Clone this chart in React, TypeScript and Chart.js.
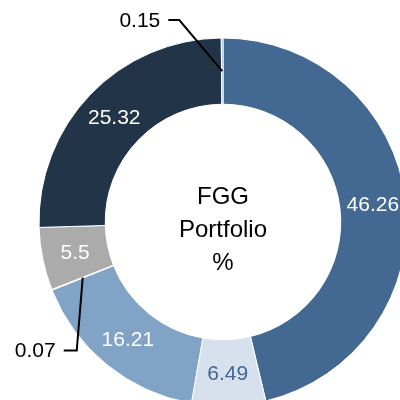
import React, { useEffect, useRef } from "react";
import { Chart, registerables } from "chart.js";

Chart.register(...registerables);

const categories = ["A", "B", "C", "D", "E", "F", "G"];
const values = [46.26, 6.49, 16.21, 0.07, 5.5, 25.32, 0.15];
const valueLabels = ["46.26", "6.49", "16.21", "0.07", "5.5", "25.32", "0.15"];
const centerLines = ["FGG", "Portfolio", "%"];

const sliceColors = ["#436891", "#d6e1ed", "#80a3c6", "#d6e1ed", "#ababab", "#223548", "#80a3c6"];
const labelColors = ["#ffffff", "#436891", "#ffffff", "#000000", "#ffffff", "#ffffff", "#000000"];
// leader line elbows (relative to arc mid point) for small outside labels
const leaders: Record<number, { dx: number; dy: number; len: number }> = {
  3: { dx: -6, dy: 73, len: 13 },
  6: { dx: -43, dy: -51, len: 11 },
};

const FONT = "'Liberation Sans', Arial, sans-serif";

export default function App() {
  const ref = useRef<HTMLCanvasElement | null>(null);
  useEffect(() => {
    if (!ref.current) return;
    const labelPlugin = {
      id: "labels",
      afterDatasetsDraw(chart: any) {
        const ctx = chart.ctx;
        const meta = chart.getDatasetMeta(0);
        ctx.save();
        meta.data.forEach((arc: any, i: number) => {
          const p = arc.tooltipPosition();
          ctx.font = `21px ${FONT}`;
          ctx.fillStyle = labelColors[i];
          const ld = leaders[i];
          if (ld) {
            const ex = p.x + ld.dx;
            const ey = p.y + ld.dy;
            ctx.strokeStyle = "#000";
            ctx.lineWidth = 2;
            ctx.beginPath();
            ctx.moveTo(p.x, p.y);
            ctx.lineTo(ex, ey);
            ctx.lineTo(ex - ld.len, ey);
            ctx.stroke();
            ctx.textAlign = "right";
            ctx.textBaseline = "middle";
            ctx.fillText(valueLabels[i], ex - ld.len - 8, ey + 1);
          } else {
            ctx.textAlign = "center";
            ctx.textBaseline = "middle";
            ctx.fillText(valueLabels[i], p.x, p.y + 1);
          }
        });
        // center text
        const a = meta.data[0];
        ctx.font = `24px ${FONT}`;
        ctx.fillStyle = "#000";
        ctx.textAlign = "center";
        ctx.textBaseline = "alphabetic";
        centerLines.forEach((t, k) => {
          ctx.fillText(t, a.x, a.y - 18 + k * 33);
        });
        ctx.restore();
      },
    };
    const chart = new Chart(ref.current, {
      type: "doughnut",
      data: {
        labels: categories,
        datasets: [
          {
            data: values,
            backgroundColor: sliceColors,
            borderColor: "#ffffff",
            borderWidth: 1,
          },
        ],
      },
      options: {
        responsive: false,
        animation: false,
        radius: 184,
        cutout: "64%",
        layout: { padding: { left: 39, top: 38, right: 23, bottom: 24 } },
        plugins: {
          legend: { display: false },
          tooltip: { enabled: false },
        },
      } as any,
      plugins: [labelPlugin],
    });
    return () => chart.destroy();
  }, []);
  return (
    <div style={{ position: "fixed", left: 0, top: 0, width: 400, height: 400, overflow: "hidden", background: "#fff" }}>
      <canvas ref={ref} width={430} height={430} style={{ width: 430, height: 430, display: "block" }} />
    </div>
  );
}
